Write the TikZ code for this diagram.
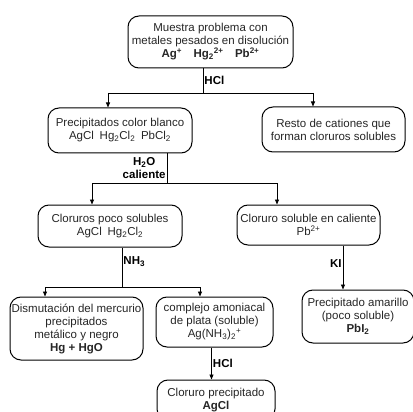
\documentclass[tikz,border=0pt]{standalone}
\usepackage{fontspec}
\setmainfont{Liberation Sans}
\usetikzlibrary{arrows.meta}

\begin{document}
\begin{tikzpicture}[x=1pt,y=-1pt,
    box/.style={draw, rounded corners=11pt, line width=1pt, align=center, inner sep=0pt,
        font=\fontsize{11.5}{13}\selectfont, text=black!85},
    lbl/.style={font=\fontsize{11.5}{13}\selectfont\bfseries, inner sep=1pt, align=center},
    arr/.style={-{Triangle[length=5pt,width=4pt]}},
    every path/.style={line width=0.9pt}]
    \useasboundingbox (0,0) rectangle (413,412);
    % boxes
    \node[box, minimum width=165pt, minimum height=52pt] (muestra) at (210.5,42)
        {Muestra problema con\\metales pesados en disolución\\
         \textbf{Ag\textsuperscript{+}\quad Hg\textsubscript{2}\textsuperscript{2+}\quad Pb\textsuperscript{2+}}};
    \node[box, minimum width=144pt, minimum height=45pt] (blanco) at (120,130.5)
        {Precipitados color blanco\\AgCl\enspace Hg\textsubscript{2}Cl\textsubscript{2}\enspace PbCl\textsubscript{2}};
    \node[box, minimum width=143pt, minimum height=45pt] (resto) at (333.5,129.5)
        {Resto de cationes que\\forman cloruros solubles};
    \node[box, minimum width=144pt, minimum height=42pt] (poco) at (110,226)
        {Cloruros poco solubles\\AgCl\enspace Hg\textsubscript{2}Cl\textsubscript{2}};
    \node[box, minimum width=143pt, minimum height=40pt] (soluble) at (308.5,225)
        {Cloruro soluble en caliente\\Pb\textsuperscript{2+}};
    \node[box, minimum width=133pt, minimum height=63pt] (dismut) at (76.5,328.5)
        {Dismutación del mercurio\\precipitados\\metálico y negro\\\textbf{Hg + HgO}};
    \node[box, minimum width=117pt, minimum height=50pt] (complejo) at (214.5,322)
        {complejo amoniacal\\de plata (soluble)\\Ag(NH\textsubscript{3})\textsubscript{2}\textsuperscript{+}};
    \node[box, minimum width=112pt, minimum height=53pt] (amarillo) at (358,316.5)
        {Precipitado amarillo\\(poco soluble)\\\textbf{PbI\textsubscript{2}}};
    \node[box, minimum width=118pt, minimum height=40pt] (cloruro) at (216,400)
        {Cloruro precipitado\\\textbf{AgCl}};
    % junctions
    \coordinate (j1) at (203,93);
    \coordinate (l1) at (108,93);
    \coordinate (r1) at (313,93);
    \coordinate (j2) at (167,183);
    \coordinate (l2) at (92,183);
    \coordinate (r2) at (277,183);
    \coordinate (j3) at (122,287);
    \coordinate (l3) at (45,287);
    \coordinate (r3) at (200,287);
    % connectors
    \draw (muestra.south -| j1) -- node[lbl, anchor=west, pos=0.5] {HCl} (j1);
    \draw (l1) -- (r1);
    \draw[arr] (l1) -- (l1 |- blanco.north);
    \draw[arr] (r1) -- (r1 |- resto.north);
    \draw (blanco.south -| j2) -- node[lbl, anchor=east, pos=0.5] {H\textsubscript{2}O\\caliente} (j2);
    \draw (l2) -- (r2);
    \draw[arr] (l2) -- (l2 |- poco.north);
    \draw[arr] (r2) -- (r2 |- soluble.north);
    \draw (poco.south -| j3) -- node[lbl, anchor=west, pos=0.35] {NH\textsubscript{3}} (j3);
    \draw (l3) -- (r3);
    \draw[arr] (l3) -- (l3 |- dismut.north);
    \draw[arr] (r3) -- (r3 |- complejo.north);
    \draw[arr] (soluble.south -| amarillo.north) ++(-15,0) coordinate (k1) -- (k1 |- amarillo.north)
        node[lbl, anchor=east, pos=0.4] {KI};
    \draw[arr] (complejo.south) ++(-3,0) coordinate (h1) -- (h1 |- cloruro.north)
        node[lbl, anchor=west, pos=0.5] {HCl};
\end{tikzpicture}
\end{document}
